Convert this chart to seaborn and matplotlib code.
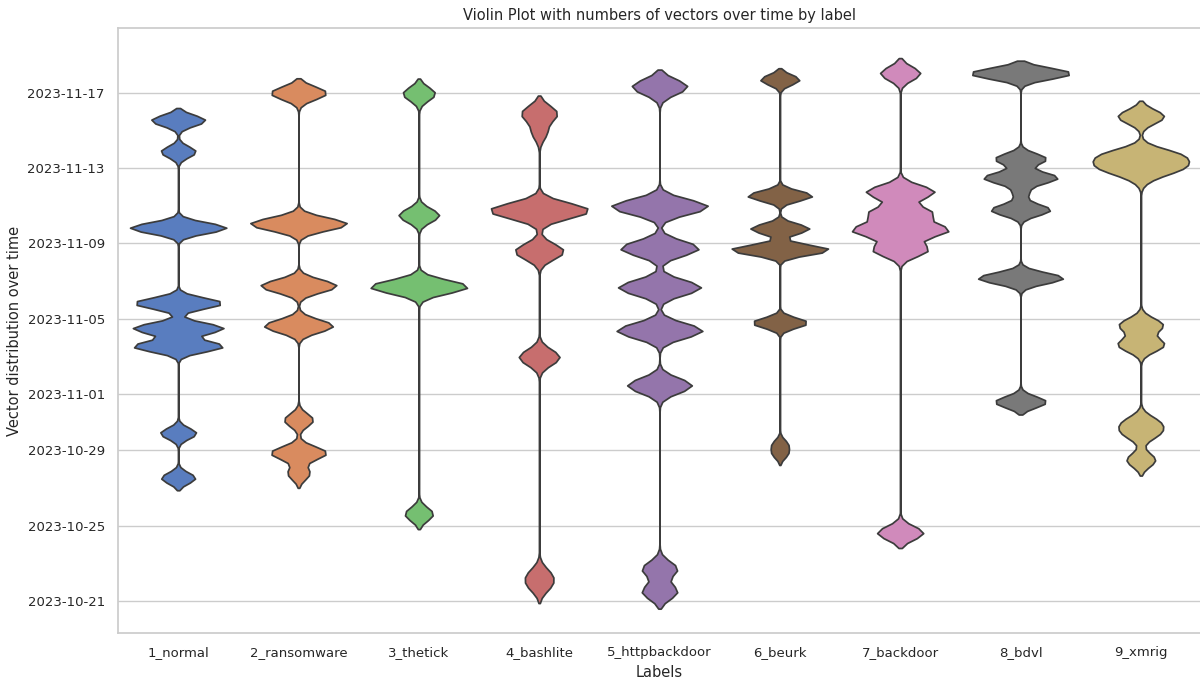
import numpy as np
import pandas as pd
import matplotlib
matplotlib.use("Agg")
import matplotlib.pyplot as plt
import matplotlib.dates as mdates
import seaborn as sns

# Vector timestamps per label (bursts of vectors: timestamp and how many vectors)
labels = ["1_normal", "2_ransomware", "3_thetick", "4_bashlite", "5_httpbackdoor",
          "6_beurk", "7_backdoor", "8_bdvl", "9_xmrig"]

normal_times = ["2023-11-15 13:00", "2023-11-13 21:00", "2023-11-09 20:00", "2023-11-05 20:00",
                "2023-11-04 12:00", "2023-11-03 13:00", "2023-10-29 22:00", "2023-10-27 13:00"]
normal_counts = [54, 35, 96, 88, 90, 90, 36, 34]

ransomware_times = ["2023-11-17 00:00", "2023-11-10 01:00", "2023-11-06 18:00", "2023-11-04 15:00",
                    "2023-10-30 15:00", "2023-10-28 21:00", "2023-10-27 19:00"]
ransomware_counts = [56, 97, 76, 69, 29, 56, 22]

thetick_times = ["2023-11-16 23:00", "2023-11-10 12:00", "2023-11-06 17:00", "2023-10-25 15:00"]
thetick_counts = [32, 40, 97, 28]

bashlite_times = ["2023-11-15 22:00", "2023-11-14 22:00", "2023-11-10 18:00", "2023-11-08 14:00",
                  "2023-11-02 23:00", "2023-10-22 10:00", "2023-10-21 20:00"]
bashlite_counts = [34, 14, 96, 47, 39, 18, 18]

httpbackdoor_times = ["2023-11-17 08:00", "2023-11-10 23:00", "2023-11-08 18:00", "2023-11-06 16:00",
                      "2023-11-04 09:00", "2023-11-01 11:00", "2023-10-22 17:00", "2023-10-21 12:00"]
httpbackdoor_counts = [55, 96, 78, 82, 85, 64, 35, 35]

beurk_times = ["2023-11-17 17:00", "2023-11-11 13:00", "2023-11-09 19:00", "2023-11-08 16:00",
               "2023-11-04 19:00", "2023-10-29 08:00", "2023-10-28 20:00"]
beurk_counts = [38, 63, 57, 96, 54, 14, 14]

backdoor_times = ["2023-11-18 01:00", "2023-11-11 18:00", "2023-11-10 15:00", "2023-11-09 17:00",
                  "2023-11-08 16:00", "2023-10-24 15:00"]
backdoor_counts = [40, 68, 62, 95, 55, 46]

bdvl_times = ["2023-11-18 01:00", "2023-11-13 12:00", "2023-11-12 12:00", "2023-11-11 17:00",
              "2023-11-10 19:00", "2023-11-07 04:00", "2023-10-31 14:00"]
bdvl_counts = [98, 50, 72, 15, 58, 83, 50]

xmrig_times = ["2023-11-15 18:00", "2023-11-13 17:00", "2023-11-13 02:00", "2023-11-12 14:00",
               "2023-11-04 16:00", "2023-11-03 15:00", "2023-10-30 12:00", "2023-10-29 22:00",
               "2023-10-28 12:00"]
xmrig_counts = [37, 55, 55, 15, 35, 37, 25, 25, 23]

tick_dates = ["2023-10-21", "2023-10-25", "2023-10-29", "2023-11-01",
              "2023-11-05", "2023-11-09", "2023-11-13", "2023-11-17"]

series = [
    (normal_times, normal_counts), (ransomware_times, ransomware_counts),
    (thetick_times, thetick_counts), (bashlite_times, bashlite_counts),
    (httpbackdoor_times, httpbackdoor_counts), (beurk_times, beurk_counts),
    (backdoor_times, backdoor_counts), (bdvl_times, bdvl_counts),
    (xmrig_times, xmrig_counts),
]

frames = []
for lab, (times, counts) in zip(labels, series):
    t = mdates.date2num(pd.to_datetime(times).to_pydatetime())
    frames.append(pd.DataFrame({"label": lab, "time": np.repeat(t, counts)}))
df = pd.concat(frames, ignore_index=True)

sns.set_theme(style="whitegrid", palette="muted")
plt.rcParams["font.family"] = ["DejaVu Sans"]

fig = plt.figure(figsize=(12, 6.82), dpi=100)
ax = fig.add_axes([118 / 1200, 1 - 633 / 682, 1083 / 1200, 605 / 682])

sns.violinplot(data=df, x="label", y="time", hue="label", order=labels,
               palette="muted", legend=False, inner=None, density_norm="width",
               bw_method=0.055, cut=2.3, ax=ax)

ticks = mdates.date2num(pd.to_datetime(tick_dates).to_pydatetime())
ax.set_yticks(ticks)
ax.yaxis.set_major_formatter(mdates.DateFormatter("%Y-%m-%d"))
ax.set_ylim(ticks[0] - 1.70, ticks[-1] + 3.45)
ax.set_xlim(-0.5, len(labels) - 0.5)

ax.set_title("Violin Plot with numbers of vectors over time by label", fontsize=10.5)
ax.set_xlabel("Labels", fontsize=10.5)
ax.set_ylabel("Vector distribution over time", fontsize=10.5)
ax.tick_params(axis="both", labelsize=9.5)

fig.savefig("out.png", dpi=100)
